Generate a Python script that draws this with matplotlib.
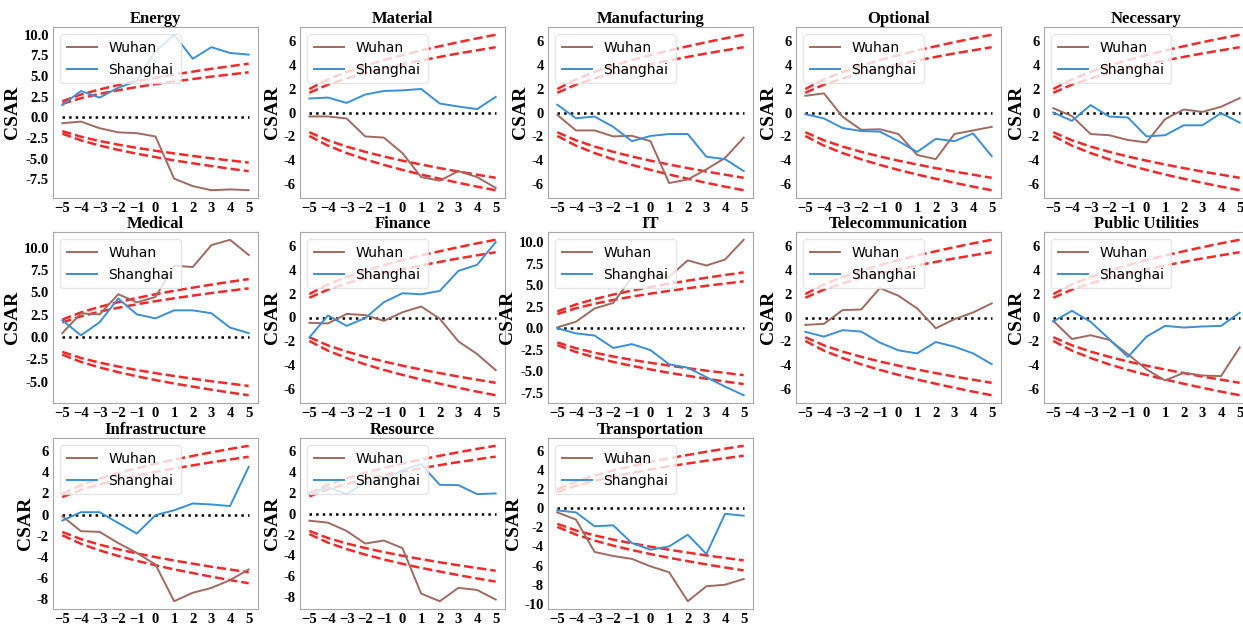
import matplotlib
matplotlib.use("Agg")
import matplotlib.pyplot as plt
from matplotlib.ticker import MultipleLocator, FormatStrFormatter

days = [-5, -4, -3, -2, -1, 0, 1, 2, 3, 4, 5]

sectors = ["Energy", "Material", "Manufacturing", "Optional", "Necessary",
           "Medical", "Finance", "IT", "Telecommunication", "Public Utilities",
           "Infrastructure", "Resource", "Transportation"]

# cumulative abnormal returns per sector
wuhan = {
    "Energy": [-0.7, -0.5, -1.3, -1.8, -1.9, -2.3, -7.4, -8.3, -8.8, -8.7, -8.8],
    "Material": [-0.33, -0.33, -0.5, -2.0, -2.1, -3.4, -5.4, -5.7, -4.9, -5.4, -6.3],
    "Manufacturing": [-0.2, -1.5, -1.5, -2.0, -1.95, -2.4, -5.9, -5.6, -4.75, -3.8, -2.1],
    "Optional": [1.4, 1.6, -0.36, -1.45, -1.4, -1.8, -3.55, -3.9, -1.8, -1.5, -1.2],
    "Necessary": [0.36, -0.3, -1.8, -1.9, -2.3, -2.5, -0.55, 0.25, 0.05, 0.48, 1.2],
    "Medical": [0.45, 2.67, 2.55, 4.8, 3.9, 4.5, 8.0, 7.85, 10.3, 10.9, 9.2],
    "Finance": [-0.44, -0.5, 0.3, 0.2, -0.28, 0.44, 0.92, -0.1, -2.0, -3.05, -4.4],
    "IT": [0.1, 0.76, 2.3, 2.95, 5.9, 6.2, 6.0, 7.9, 7.3, 8.0, 10.3],
    "Telecommunication": [-0.62, -0.53, 0.62, 0.67, 2.46, 1.82, 0.76, -0.9, -0.14, 0.42, 1.18],
    "Public Utilities": [-0.28, -1.8, -1.48, -1.87, -3.07, -4.34, -5.27, -4.62, -4.85, -4.9, -2.5],
    "Infrastructure": [-0.16, -1.58, -1.64, -2.7, -3.63, -4.73, -8.2, -7.4, -6.94, -6.2, -5.2],
    "Resource": [-0.67, -0.86, -1.65, -2.86, -2.57, -3.3, -7.65, -8.38, -7.1, -7.3, -8.22],
    "Transportation": [-0.45, -1.2, -4.58, -5.0, -5.3, -6.08, -6.7, -9.72, -8.16, -8.0, -7.4],
}

shanghai = {
    "Energy": [1.5, 3.2, 2.4, 3.6, 4.4, 8.0, 10.0, 7.1, 8.5, 7.8, 7.6],
    "Material": [1.17, 1.25, 0.8, 1.5, 1.8, 1.85, 1.97, 0.75, 0.5, 0.28, 1.3],
    "Manufacturing": [0.65, -0.48, -0.34, -1.2, -2.4, -1.96, -1.8, -1.8, -3.7, -3.9, -4.9],
    "Optional": [-0.14, -0.5, -1.3, -1.55, -1.6, -2.4, -3.3, -2.2, -2.4, -1.75, -3.65],
    "Necessary": [0.0, -0.7, 0.62, -0.34, -0.42, -2.0, -1.9, -1.07, -1.07, -0.05, -0.85],
    "Medical": [1.9, 0.2, 1.67, 4.33, 2.55, 2.1, 3.0, 3.0, 2.67, 1.07, 0.45],
    "Finance": [-1.67, 0.17, -0.7, -0.05, 1.28, 2.03, 1.94, 2.22, 3.9, 4.4, 6.3],
    "IT": [0.0, -0.6, -0.85, -2.3, -1.85, -2.55, -4.2, -4.6, -5.7, -6.8, -7.8],
    "Telecommunication": [-1.2, -1.6, -1.06, -1.18, -2.1, -2.75, -3.0, -2.05, -2.44, -3.0, -3.9],
    "Public Utilities": [-0.33, 0.56, -0.36, -1.8, -3.3, -1.6, -0.7, -0.84, -0.75, -0.7, 0.4],
    "Infrastructure": [-0.57, 0.22, 0.22, -0.8, -1.8, -0.06, 0.4, 1.04, 0.95, 0.8, 4.5],
    "Resource": [1.87, 2.54, 1.87, 3.0, 3.24, 4.2, 4.73, 2.76, 2.73, 1.87, 1.94],
    "Transportation": [-0.24, -0.45, -1.9, -1.8, -3.65, -4.34, -4.0, -2.78, -4.8, -0.6, -0.8],
}

# critical bands (90% and 95%) for the cumulative window
band_90 = [1.65, 2.33, 2.85, 3.29, 3.68, 4.03, 4.35, 4.65, 4.94, 5.20, 5.46]
band_95 = [1.96, 2.77, 3.39, 3.92, 4.38, 4.80, 5.19, 5.54, 5.88, 6.20, 6.50]

W, H = 1243, 624
col_left = [53, 300, 548, 796, 1044]
row_top = [27, 232, 438]
ax_w, ax_h = 205, 171

serif = "Liberation Serif"


def draw_panel(ax, name):
    for b in (band_90, band_95):
        ax.plot(days, b, ls="--", color="#ee2a2a", lw=1.8)
        ax.plot(days, [-v for v in b], ls="--", color="#ee2a2a", lw=1.8)
    ax.plot(days, [0] * len(days), ls=":", color="black", lw=1.8)
    ax.plot(days, wuhan[name], color="#a06a60", lw=1.4, label="Wuhan")
    ax.plot(days, shanghai[name], color="#3b8fd4", lw=1.4, label="Shanghai")

    ax.set_xticks(days)
    wide = max(wuhan[name] + shanghai[name]) > 8
    if wide:
        ax.yaxis.set_major_locator(MultipleLocator(2.5))
        ax.yaxis.set_major_formatter(FormatStrFormatter("%.1f"))
    else:
        ax.yaxis.set_major_locator(MultipleLocator(2))
        ax.yaxis.set_major_formatter(FormatStrFormatter("%d"))

    ax.set_title(name, fontfamily=serif, fontweight="bold", fontsize=12, pad=3)
    ax.set_ylabel("CSAR", fontfamily=serif, fontweight="bold", fontsize=14, labelpad=2)
    ax.tick_params(length=0, pad=3)
    for lab in ax.get_xticklabels() + ax.get_yticklabels():
        lab.set_fontfamily(serif)
        lab.set_fontweight("bold")
        lab.set_fontsize(10.5)
    for sp in ax.spines.values():
        sp.set_color("#a8a8a8")

    # only Wuhan / Shanghai go into the legend
    h, l = ax.get_legend_handles_labels()
    leg = ax.legend(h[-2:], l[-2:], loc="upper left", fontsize=10,
                    handlelength=2.2, borderpad=0.5, labelspacing=0.55)
    leg.get_frame().set_edgecolor("#e0e0e0")


def main():
    fig = plt.figure(figsize=(W / 100, H / 100), dpi=100)
    for i, name in enumerate(sectors):
        r, c = divmod(i, 5)
        left = col_left[c] / W
        bottom = (H - row_top[r] - ax_h) / H
        ax = fig.add_axes([left, bottom, ax_w / W, ax_h / H])
        draw_panel(ax, name)
    fig.savefig("out.png", dpi=100)


if __name__ == '__main__':
    main()
